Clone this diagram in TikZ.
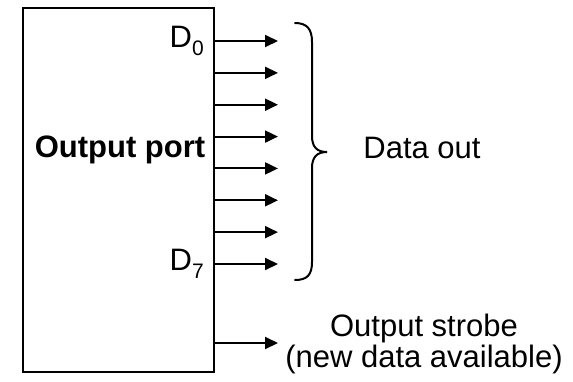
\documentclass[tikz,border=0pt]{standalone}
\usepackage{fontspec}
\setmainfont{Liberation Sans}
\usetikzlibrary{arrows.meta}
\newcommand{\bigtxt}{\fontsize{31}{33}\selectfont}
\newcommand{\subtxt}[1]{\raisebox{-8pt}{\fontsize{21}{21}\selectfont #1}}
\begin{document}
\begin{tikzpicture}[x=1pt,y=-1pt,
  portbox/.style={draw,line width=2pt,minimum width=191pt,minimum height=364pt,inner sep=0pt},
  sig/.style={line width=2pt,-{Triangle[length=13pt,width=12pt]}},
  lbl/.style={font=\bigtxt,inner sep=0pt},
  bracepath/.style={line width=2pt,line cap=round}]
  \useasboundingbox (0,0) rectangle (573,381);

  % the port block
  \node[portbox] (port) at (118.5,190) {};
  \node[lbl,font=\bigtxt\bfseries] (title) at (120,150) {Output port};

  % eight data lines D0..D7
  \foreach \i in {0,...,7} {
    \coordinate (s\i) at (214,{41+\i*31.857});
    \coordinate (e\i) at (278,{41+\i*31.857});
    \draw[sig] (s\i) -- (e\i);
  }
  \node[lbl,anchor=base east] (d0) at (204,47) {D\subtxt{0}};
  \node[lbl,anchor=base east] (d7) at (204,270) {D\subtxt{7}};

  % brace grouping the data lines
  \draw[bracepath] (295,23) .. controls (307,23) and (312,29) .. (312,42)
    -- (312,136) .. controls (312,147) and (317,152) .. (327,152)
    .. controls (317,152) and (312,157) .. (312,168)
    -- (312,262) .. controls (312,275) and (307,280) .. (295,280);
  \node[lbl,anchor=base] (dataout) at (422,158) {Data out};

  % strobe line
  \coordinate (ss) at (214,343);
  \coordinate (se) at (278,343);
  \draw[sig] (ss) -- (se);
  \node[lbl,anchor=base] (strobe1) at (424,336) {Output strobe};
  \node[lbl,anchor=base] (strobe2) at (424,367) {(new data available)};
\end{tikzpicture}
\end{document}
